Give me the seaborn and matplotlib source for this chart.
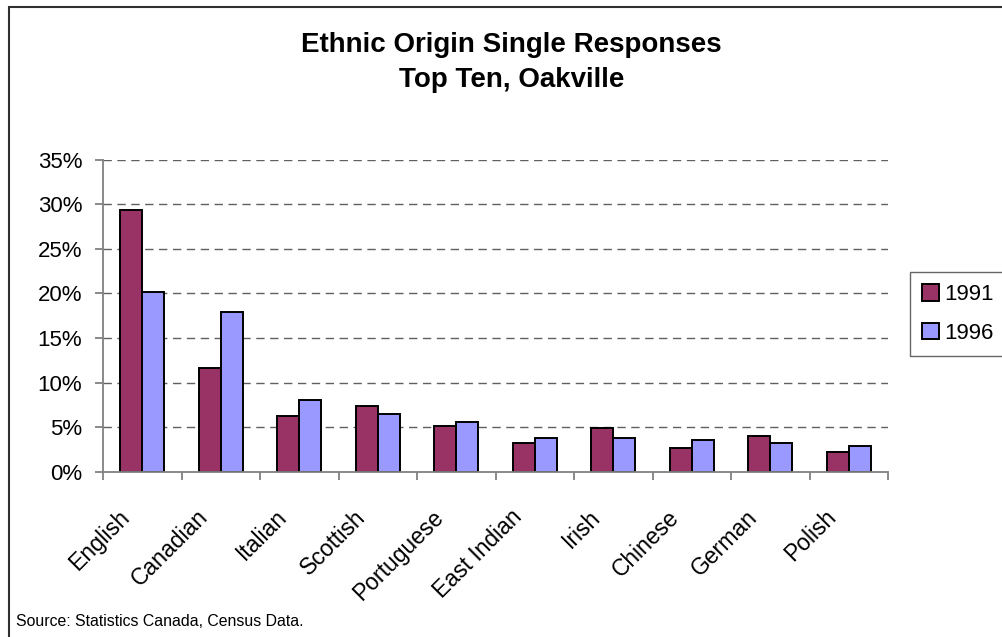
import matplotlib
matplotlib.use("Agg")
import matplotlib.pyplot as plt
from matplotlib.patches import Patch, Rectangle
from matplotlib.ticker import MultipleLocator, FuncFormatter
from matplotlib.transforms import ScaledTranslation
import pandas as pd
import seaborn as sns

categories = ["English", "Canadian", "Italian", "Scottish", "Portuguese",
              "East Indian", "Irish", "Chinese", "German", "Polish"]
share_1991 = [29.4, 11.6, 6.3, 7.4, 5.1, 3.3, 4.9, 2.7, 4.0, 2.2]
share_1996 = [20.2, 17.9, 8.1, 6.5, 5.6, 3.8, 3.8, 3.6, 3.3, 2.9]
years = ["1991", "1996"]
colors = {"1991": "#993366", "1996": "#9999FF"}

df = pd.DataFrame({
    "origin": categories * 2,
    "year": [years[0]] * len(categories) + [years[1]] * len(categories),
    "share": share_1991 + share_1996,
})

sns.set_style("white")
plt.rcParams["font.family"] = ["Liberation Sans", "DejaVu Sans"]
plt.rcParams["text.color"] = "black"
plt.rcParams["xtick.labelcolor"] = "black"
plt.rcParams["ytick.labelcolor"] = "black"

W, H = 1003, 637
fig = plt.figure(figsize=(W / 100, H / 100), dpi=100)
ax = fig.add_axes([103 / W, (H - 472) / H, (888 - 103) / W, (472 - 159.5) / H])

sns.barplot(data=df, x="origin", y="share", hue="year", order=categories,
            hue_order=years, palette=colors, width=0.56, gap=0,
            edgecolor="black", linewidth=1.4, saturation=1, ax=ax, legend=False)

ax.set_xlim(-0.5, len(categories) - 0.5)
ax.set_ylim(0, 35)
ax.yaxis.set_major_locator(MultipleLocator(5))
ax.yaxis.set_major_formatter(FuncFormatter(lambda v, _: f"{v:.0f}%"))
ax.set_xlabel("")
ax.set_ylabel("")

# dashed gridlines at every 5%, above zero
for v in range(5, 36, 5):
    ax.axhline(v, color="#606060", lw=1.0, ls=(0, (6, 4)), zorder=0)

for side in ["top", "right"]:
    ax.spines[side].set_visible(False)
for side in ["left", "bottom"]:
    ax.spines[side].set_color("#808080")
    ax.spines[side].set_linewidth(1.3)

# ticks between category groups
ax.set_xticks([i + 0.5 for i in range(-1, len(categories))], minor=True)
ax.set_xticks(range(len(categories)))
ax.tick_params(axis="x", which="major", length=0, pad=30, labelcolor="black")
ax.tick_params(axis="x", which="minor", length=6, width=1.3, color="#808080",
               direction="out", bottom=True)
ax.tick_params(axis="y", length=6, width=1.3, color="#808080", direction="out",
               left=True, pad=9, labelsize=16, labelcolor="black")
ax.set_xticklabels(categories, rotation=45, ha="right", va="center",
                   rotation_mode="anchor", fontsize=16.5, color="black")
# pull the slanted labels a little left of the group centre
shift = ScaledTranslation(-16 / 100, 0, fig.dpi_scale_trans)
for tick in ax.xaxis.get_major_ticks():
    tick.label1.set_transform(tick.label1.get_transform() + shift)

fig.text(0.51, 1 - 45 / H, "Ethnic Origin Single Responses", color="black",
         ha="center", va="center", fontsize=20, fontweight="bold")
fig.text(0.51, 1 - 80 / H, "Top Ten, Oakville", color="black",
         ha="center", va="center", fontsize=20, fontweight="bold")

handles = [Patch(facecolor=colors[y], edgecolor="black", linewidth=1.4, label=y)
           for y in years]
leg = fig.legend(handles=handles, loc="upper left",
                 bbox_to_anchor=(910 / W, 1 - 272 / H), frameon=True,
                 fancybox=False, fontsize=16, handlelength=0.75,
                 handleheight=0.75, handletextpad=0.25, labelspacing=0.8,
                 borderpad=0.55, borderaxespad=0, labelcolor="black")
leg.get_frame().set_edgecolor("#404040")
leg.get_frame().set_linewidth(1.0)

fig.text(16 / W, 1 - 621 / H, "Source: Statistics Canada, Census Data.",
         ha="left", va="center", fontsize=11.4, color="black")

# outer chart frame
fig.patches.append(Rectangle((9 / W, -0.1), 1.2, 1 - 7 / H + 0.1,
                             transform=fig.transFigure, fill=False,
                             edgecolor="#303030", linewidth=1.5))

fig.savefig("out.png", dpi=100)
